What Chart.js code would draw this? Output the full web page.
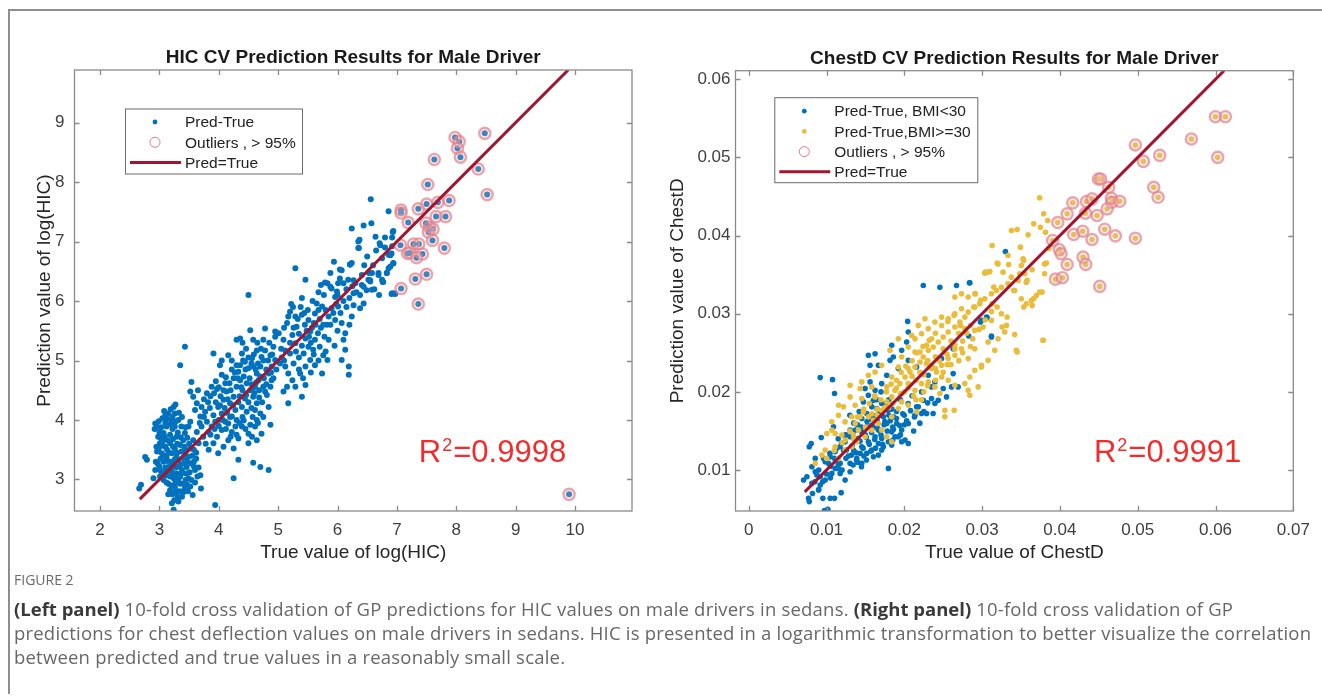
<!DOCTYPE html>
<html>
<head>
<meta charset="utf-8">
<script src="https://cdn.jsdelivr.net/npm/chart.js@4.4.0/dist/chart.umd.min.js"></script>
<style>
  html, body { margin: 0; padding: 0; background: #fff; }
  body { width: 1322px; height: 697px; position: relative; overflow: hidden; }
  .frame { position: absolute; left: 8px; top: 9px; width: 1330px; height: 683px;
           border-left: 2px solid #8e8e8e; border-top: 2px solid #8e8e8e; }
  #hicChart { position: absolute; left: 0; top: 20px; }
  #chestChart { position: absolute; left: 660px; top: 20px; }
  .caption { position: absolute; left: 14px; top: 567px; width: 1305px; white-space: nowrap;
             font-family: "Open Sans", sans-serif; color: #676767; }
  .caption .fig { font-size: 14px; color: #6a6a6a; height: 30px; line-height: 25px; }
  .caption .text { font-size: 18.5px; letter-spacing: 0.2px; line-height: 24px; }
  .caption b { color: #3a3a3a; font-weight: 700; letter-spacing: 0; }
</style>
</head>
<body>
<div class="frame"></div>
<canvas id="hicChart" width="660" height="560"></canvas>
<canvas id="chestChart" width="662" height="560"></canvas>
<div class="caption">
  <div class="fig">FIGURE 2</div>
  <div class="text"><b>(Left panel)</b> 10-fold cross validation of GP predictions for HIC values on male drivers in sedans. <b>(Right panel)</b> 10-fold cross validation of GP<br>predictions for chest deflection values on male drivers in sedans. HIC is presented in a logarithmic transformation to better visualize the correlation<br>between predicted and true values in a reasonably small scale.</div>
</div>
<script>
// ---- left panel: log(HIC), [true, predicted]
const hicPoints = [
  [2.66,2.85],[2.69,2.91],[2.76,3.38],[2.79,3.33],[2.93,3.94],[2.96,3.89],[2.98,3.72],[3.01,3.61],[2.96,3.47],[2.97,3.27],
  [2.93,3.16],[2.90,3.02],[3.01,3.16],[3.05,4.03],[3.10,4.08],[3.15,4.11],[3.24,4.22],[3.26,4.11],[3.21,3.97],[3.12,3.89],
  [3.07,3.78],[3.18,3.75],[3.26,3.89],[3.32,4.00],[3.37,3.89],[3.29,3.72],[3.18,3.61],[3.10,3.55],[3.04,3.44],[3.12,3.38],
  [3.21,3.44],[3.26,3.52],[3.35,3.58],[3.40,3.66],[3.43,3.78],[3.49,3.89],[3.52,3.97],[3.46,3.49],[3.07,3.30],[3.15,3.21],
  [3.24,3.27],[3.32,3.33],[3.40,3.36],[3.49,3.38],[3.54,3.27],[3.46,3.21],[3.38,3.16],[3.29,3.10],[3.21,3.13],[3.12,3.07],
  [3.04,3.10],[3.07,2.99],[3.15,2.93],[3.24,3.02],[3.32,2.99],[3.40,2.93],[3.49,3.02],[3.52,2.88],[3.43,2.85],[3.26,2.88],
  [3.18,2.82],[3.29,2.76],[3.21,2.60],[3.24,2.49],[3.38,2.71],[3.32,2.63],[3.56,2.74],[3.70,2.85],[3.69,3.07],[3.60,3.16],
  [3.54,2.99],[3.94,2.57],[3.43,5.23],[3.35,4.92],[3.00,3.80],[3.05,3.65],[3.13,3.50],[3.20,3.30],[3.28,3.20],[3.35,3.05],
  [3.18,3.05],[3.10,3.20],[2.95,3.55],[3.02,3.35],[3.30,3.45],[3.36,3.25],[3.45,3.10],[3.27,2.95],[3.15,2.75],[3.35,2.80],
  [3.42,3.55],[3.50,3.60],[3.58,3.50],[3.62,3.35],[3.10,3.95],[3.22,3.85],[3.30,3.60],
  [2.92,3.85],[2.99,3.98],[3.03,3.88],[3.08,4.15],[3.13,4.02],[3.17,3.93],[3.22,4.05],[3.28,3.98],[3.33,4.12],[3.38,4.05],
  [3.19,4.18],[3.27,4.26],[3.02,3.70],[3.09,3.72],[3.14,3.66],[3.23,3.68],[3.31,3.79],[3.36,3.71],[3.44,3.88],[3.47,3.70],
  [2.99,3.52],[3.06,3.57],[3.16,3.45],[3.23,3.55],[3.29,3.38],[3.37,3.47],[3.44,3.42],[3.52,3.52],[2.94,3.30],[3.00,3.22],
  [3.09,3.40],[3.14,3.31],[3.19,3.22],[3.26,3.34],[3.33,3.22],[3.41,3.27],[3.47,3.30],[3.55,3.40],[3.01,3.05],[3.09,3.12],
  [3.17,3.15],[3.22,3.06],[3.30,3.05],[3.37,3.10],[3.44,2.99],[3.51,3.12],[3.58,3.22],[3.12,2.95],[3.20,2.90],[3.28,2.82],
  [3.35,2.93],[3.46,2.92],[3.22,2.75],[3.31,2.70],[3.25,2.65],[3.40,2.78],[3.48,2.80],[3.60,2.95],[3.64,3.05],[3.66,3.20],
  [3.58,3.30],[3.62,3.45],
  [3.54,4.64],[3.52,4.48],[3.57,4.39],[3.63,4.28],[3.71,4.22],[3.60,4.17],[3.69,4.06],[3.77,4.14],[3.80,3.97],[3.71,3.89],
  [3.63,3.80],[3.57,3.66],[3.66,3.61],[3.74,3.72],[3.83,3.80],[3.88,3.89],[3.94,3.97],[3.91,4.08],[3.85,4.20],[3.80,4.45],
  [3.88,4.56],[3.91,5.12],[4.02,4.92],[4.05,4.76],[4.11,4.62],[4.13,4.48],[4.08,4.34],[3.99,4.22],[4.05,4.11],[4.11,3.97],
  [4.05,3.83],[3.97,3.72],[3.91,3.61],[3.83,3.50],[3.99,3.44],[4.08,3.55],[4.16,3.66],[4.22,3.80],[4.28,3.89],[4.22,4.06],
  [4.28,4.17],[4.19,4.28],[4.25,4.39],[4.30,4.56],[4.36,4.67],[4.33,4.81],[4.30,4.92],[4.16,5.09],[4.30,5.35],[4.36,5.37],
  [4.39,5.12],[4.44,4.98],[4.50,4.87],[4.42,4.73],[4.47,4.62],[4.53,4.50],[4.44,4.36],[4.39,4.22],[4.47,4.14],[4.42,3.99],
  [4.53,3.92],[4.50,3.77],[4.61,3.89],[4.64,4.00],[4.61,4.17],[4.64,4.28],[4.58,4.39],[4.61,4.56],[4.67,4.67],[4.64,4.78],
  [4.58,4.90],[4.56,5.04],[4.53,5.51],[4.64,5.17],[4.72,5.06],[4.78,5.17],[4.75,5.35],[4.78,5.54],[4.70,4.73],[4.75,4.56],
  [4.81,4.42],[4.87,4.56],[4.89,4.67],[4.84,4.78],[4.89,4.90],[4.95,5.01],[4.87,5.09],[4.92,5.23],[4.95,5.40],[4.95,5.49],
  [4.84,4.22],[4.70,4.11],[4.72,3.77],[4.87,3.92],[4.64,3.66],[4.50,3.61],[4.56,3.72],[4.33,3.69],[4.25,3.52],[4.33,3.33],
  [4.25,3.02],[4.58,3.28],[4.70,3.21],[4.84,3.16],[4.39,3.89],[4.16,3.94],[4.40,4.50],[4.50,4.30],[4.55,4.60],[4.60,4.45],
  [4.70,4.90],[4.75,5.00],[4.80,4.85],[4.68,4.50],[4.45,4.85],[4.35,4.40],[4.20,4.50],[4.10,4.20],[4.00,4.00],[3.95,4.30],
  [4.15,4.35],[4.25,4.70],[4.40,4.05],[4.55,4.20],[4.65,5.30],[4.85,5.30],[4.90,5.10],[4.30,4.00],[4.00,4.55],[3.75,4.35],
  [3.65,4.50],
  [3.68,3.95],[3.75,4.05],[3.82,4.30],[3.86,4.40],[3.92,4.45],[3.97,4.52],[4.03,4.40],[4.08,4.50],[4.12,4.72],[4.18,4.62],
  [4.22,4.85],[4.27,4.80],[4.32,4.70],[4.36,4.92],[4.41,5.00],[4.46,5.20],[4.50,5.05],[4.55,4.95],[4.59,5.10],[4.62,4.85],
  [4.66,4.95],[4.71,5.20],[4.76,4.70],[4.80,4.60],[4.83,5.00],[4.88,4.80],[4.92,4.70],[4.97,4.85],[4.02,4.25],[4.07,4.00],
  [4.14,4.12],[4.19,4.05],[4.24,4.25],[4.33,4.30],[4.38,4.55],[4.46,4.42],[4.52,4.70],[4.57,4.52],[4.63,4.63],[4.68,4.38],
  [4.73,4.30],[4.78,4.48],[4.12,3.85],[4.20,3.72],[4.30,3.75],[4.35,3.95],[4.45,3.85],[4.57,4.05],[4.66,3.95],[4.75,4.05],
  [3.86,3.75],[3.93,3.85],[4.00,3.90],[3.78,3.60],[3.95,4.65],[4.05,5.00],[4.22,5.00],[4.40,5.30],[4.58,5.35],
  [5.03,4.95],[5.12,5.17],[5.09,5.35],[5.01,5.46],[5.15,5.63],[5.20,5.82],[5.17,5.74],[5.29,5.74],[5.31,5.57],[5.24,5.43],
  [5.29,5.29],[5.20,5.12],[5.26,4.95],[5.17,4.78],[5.24,4.67],[5.15,4.56],[5.09,4.48],[5.29,4.56],[5.17,4.28],[5.40,4.39],
  [5.46,4.59],[5.37,4.78],[5.46,4.90],[5.54,5.01],[5.43,5.12],[5.51,5.23],[5.46,5.37],[5.54,5.49],[5.60,5.63],[5.51,5.68],
  [5.40,5.77],[5.62,5.79],[5.74,5.91],[5.65,5.96],[5.77,6.10],[5.72,6.27],[5.83,6.30],[5.90,6.21],[5.96,6.07],[5.90,5.88],
  [5.85,5.74],[5.76,5.60],[5.67,5.46],[5.62,5.35],[5.70,5.23],[5.59,5.18],[5.76,5.09],[5.62,4.92],[5.74,4.78],[5.83,5.01],
  [5.85,5.35],[5.96,5.68],[6.07,5.63],[6.13,5.46],[6.10,5.35],[6.13,5.18],[6.07,5.01],[6.19,4.90],[6.19,4.76],[6.24,5.74],
  [6.01,5.91],[6.01,6.30],[6.07,6.52],[5.94,6.66],[6.04,6.38],[6.21,6.61],[6.18,6.36],[6.27,6.13],[6.27,5.93],[6.38,6.10],
  [6.38,5.88],[6.44,5.96],[6.44,6.24],[6.53,6.47],[6.55,6.33],[6.58,6.19],[6.52,6.36],[6.69,6.47],[6.75,6.36],[6.83,6.47],
  [6.89,6.58],[6.94,6.64],[6.86,6.78],[6.92,6.92],[6.72,6.94],[6.35,6.89],[6.24,6.64],[6.35,7.00],[6.97,6.13],[6.92,6.13],
  [5.29,6.55],[5.46,6.36],[4.50,6.10],[6.41,6.44],[5.35,5.45],[5.40,5.25],[5.55,5.30],[5.60,5.10],[5.35,5.05],[5.45,5.60],
  [5.70,5.70],[5.80,5.85],[5.05,5.20],[5.10,5.00],[5.30,5.15],[5.25,5.90],[5.50,5.85],[6.00,6.10],[6.15,6.20],[6.30,6.30],
  [5.06,5.05],[5.12,4.90],[5.20,5.30],[5.26,5.55],[5.33,5.70],[5.38,5.90],[5.44,5.80],[5.48,5.50],[5.52,5.40],[5.57,5.55],
  [5.63,5.60],[5.68,5.85],[5.72,5.55],[5.78,5.40],[5.82,5.60],[5.88,5.60],[5.93,5.80],[5.98,5.95],[6.05,5.80],[6.10,6.00],
  [6.15,5.90],[6.20,6.05],[6.25,6.25],[6.32,6.15],[5.35,4.85],[5.42,4.70],[5.55,4.80],[5.68,5.00],[5.80,5.15],[5.95,5.25],
  [6.00,5.50],[6.20,5.60],[5.10,5.55],[5.22,5.95],[5.40,6.05],[5.58,6.00],[5.68,6.15],[6.45,6.60],[6.60,6.60],[6.50,6.75],
  [6.65,6.85],[6.80,6.90],[6.62,6.20],[6.70,6.10],
  [6.56,7.71],[6.86,7.51],[6.44,7.27],[6.57,7.31],[6.24,7.22],[6.37,7.03],[6.36,6.89],[6.64,7.08],[6.71,6.97],[6.80,7.07],
  [6.94,7.18],[6.92,7.07],[6.21,6.62],[6.04,6.53],[5.88,6.47],[5.79,6.31],[5.88,6.24],[5.99,6.16],[6.10,6.30],[6.27,6.35],
  [6.41,6.27],[6.49,6.18],[6.55,6.35],[6.69,6.44],[6.77,6.32],[6.86,6.55],[6.94,6.63],[6.89,6.77],[6.58,6.47],[6.75,6.72],
  [6.93,7.16],[6.91,6.80],[6.83,6.47],[6.76,6.32],[6.91,6.12],[6.97,6.12]
];
const hicOutliers = [
  [7.98,8.75],[8.05,8.68],[8.02,8.57],[8.07,8.42],[8.48,8.82],[7.63,8.38],[8.37,8.22],[8.52,7.79],[7.52,7.96],[7.88,7.69],
  [7.69,7.66],[7.50,7.63],[7.36,7.55],[7.07,7.53],[7.07,7.48],[7.19,7.32],[7.82,7.42],[7.66,7.42],[7.49,7.31],[7.55,7.24],
  [7.53,7.16],[7.61,7.21],[7.60,7.02],[7.28,6.96],[7.37,6.96],[7.06,6.94],[7.80,6.89],[7.18,6.80],[7.22,6.81],[7.43,6.79],
  [7.33,6.73],[7.50,6.45],[7.31,6.37],[7.07,6.21],[7.36,5.95],[9.90,2.75]
];
const hicDiagonal = [2.67, 9.885];
const hicXRange = [1.57, 10.96];
const hicYRange = [2.47, 9.885];
const hicR2 = { text: '0.9998', x: 7.37, y: 3.29 };

// ---- right panel: chest deflection, [true, predicted]
const chestLowBmi = [
  [0.00705,0.00872],[0.00769,0.00638],[0.00778,0.00596],[0.00855,0.00979],[0.00876,0.00936],[0.00919,0.00809],[0.00897,0.00745],
  [0.00953,0.00638],[0.01047,0.00638],[0.01103,0.00638],[0.00974,0.00481],[0.01017,0.00498],[0.01188,0.00711],[0.00803,0.0134],
  [0.00778,0.01298],[0.00932,0.01417],[0.0109,0.01553],[0.00919,0.02183],[0.01077,0.02157],[0.01103,0.01979],[0.00962,0.01149],
  [0.01026,0.01085],[0.01111,0.01021],[0.01175,0.00957],[0.01239,0.00872],[0.01303,0.00979],[0.01043,0.01213],[0.01128,0.01277],
  [0.01192,0.0134],[0.01256,0.01255],[0.01321,0.01191],[0.01385,0.01128],[0.01449,0.01043],[0.01513,0.01128],[0.01342,0.01064],
  [0.01175,0.01085],[0.01239,0.01447],[0.01303,0.01511],[0.01368,0.01596],[0.01453,0.0166],[0.01517,0.01723],[0.01581,0.01809],
  [0.01474,0.01872],[0.01538,0.01957],[0.01496,0.02043],[0.0156,0.02128],[0.0156,0.0234],[0.01538,0.02468],[0.01667,0.0234],
  [0.01816,0.02404],[0.01859,0.02447],[0.01966,0.02532],[0.0203,0.02638],[0.02043,0.02902],[0.02051,0.02766],[0.01923,0.02298],
  [0.01774,0.02213],[0.01709,0.02106],[0.01624,0.02021],[0.01603,0.01894],[0.01709,0.01851],[0.01795,0.01766],[0.01859,0.01681],
  [0.01774,0.01596],[0.01667,0.01511],[0.01624,0.01426],[0.01538,0.01362],[0.01453,0.01298],[0.01731,0.01681],[0.01838,0.01489],
  [0.01923,0.01426],[0.02009,0.01383],[0.02051,0.0134],[0.01966,0.01511],[0.01902,0.01596],[0.02051,0.01596],[0.02137,0.01702],
  [0.02222,0.01723],[0.02286,0.01723],[0.0237,0.01723],[0.02158,0.01809],[0.02244,0.01894],[0.0235,0.01915],[0.02393,0.01851],
  [0.02436,0.01894],[0.02222,0.02],[0.0235,0.02064],[0.02543,0.01936],[0.02607,0.02064],[0.02692,0.02064],[0.02628,0.02234],
  [0.02479,0.02426],[0.02628,0.02553],[0.02244,0.03362],[0.02457,0.0334],[0.02671,0.03362],[0.02842,0.03396],[0.02991,0.02915],
  [0.03056,0.02957],[0.0312,0.02702],[0.0330,0.03797],[0.01795,0.01021],[0.01667,0.01191],[0.01731,0.01298],[0.01838,0.01319],
  [0.01432,0.01213],[0.01581,0.01255],[0.01624,0.02489],[0.01838,0.02596],[0.02051,0.02404],[0.02158,0.02319],[0.02308,0.02213],
  [0.02393,0.02128],[0.025,0.02043],[0.01581,0.01574],[0.01645,0.01681],[0.0156,0.01851],[0.01645,0.01787],[0.01517,0.01553],
  [0.01453,0.01489],[0.01368,0.01511],[0.01303,0.01426],[0.01239,0.01362],[0.01175,0.01298],[0.01111,0.01234],[0.01047,0.0117],
  [0.00983,0.01106],[0.00855,0.01149],[0.00812,0.01043],[0.00748,0.00915],[0.00812,0.0083],[0.00919,0.00915],[0.00983,0.00872],
  [0.01068,0.00957],[0.01154,0.01021],[0.01303,0.01085],[0.01389,0.01149],[0.01453,0.01085],[0.01517,0.01213],[0.01603,0.0117],
  [0.01709,0.01255],[0.01795,0.01362],[0.0188,0.01426],[0.01966,0.01362],[0.01709,0.01404],[0.01667,0.0134],[0.02837,0.03397],
  [0.02978,0.02894],[0.03064,0.0295],[0.02828,0.02715],[0.0312,0.02715],[0.014,0.014],[0.015,0.0145],[0.016,0.0155],
  [0.0175,0.0162],[0.018,0.017],[0.019,0.0175],[0.014,0.0158],[0.0155,0.0165],[0.0165,0.0163],[0.0185,0.0155],[0.02,0.017],
  [0.0125,0.0115],[0.0135,0.0125],[0.012,0.01],[0.0105,0.0105],[0.009,0.01],[0.0085,0.0085],[0.0195,0.019],[0.0205,0.0185],
  [0.021,0.0195],[0.018,0.019],[0.017,0.02],[0.0165,0.019],
  [0.0122,0.0125],[0.0128,0.0118],[0.0133,0.0131],[0.0138,0.0122],[0.0143,0.0137],[0.0147,0.0128],[0.0151,0.0142],[0.0155,0.0133],
  [0.0158,0.0148],[0.0162,0.0139],[0.0166,0.0153],[0.0170,0.0145],[0.0174,0.0158],[0.0178,0.0150],[0.0182,0.0163],[0.0186,0.0152],
  [0.0190,0.0166],[0.0194,0.0157],[0.0198,0.0172],[0.0203,0.0163],[0.0208,0.0176],[0.0213,0.0168],[0.0218,0.0181],[0.0225,0.0175],
  [0.0230,0.0186],[0.0140,0.0110],[0.0148,0.0118],[0.0157,0.0124],[0.0163,0.0128],[0.0172,0.0133],[0.0185,0.0138],[0.0195,0.0145],
  [0.0145,0.0155],[0.0152,0.0162],[0.0160,0.0170],[0.0168,0.0175],[0.0176,0.0183],[0.0184,0.0178],[0.0110,0.0115],[0.0115,0.0108],
  [0.0100,0.0095],[0.0095,0.0085],[0.0105,0.0090],[0.0090,0.0075],[0.0082,0.0070],[0.0115,0.0140],[0.0125,0.0145],[0.0135,0.0160],
  [0.0130,0.0170],[0.0142,0.0175],[0.0200,0.0158],[0.0212,0.0150],[0.0220,0.0160]
];
const chestHighBmi = [
  [0.01068,0.01511],[0.01111,0.01468],[0.01197,0.01447],[0.00983,0.01255],[0.01111,0.01298],[0.01239,0.01255],[0.0094,0.01191],
  [0.00855,0.01085],[0.01154,0.01149],[0.01346,0.01447],[0.0141,0.01511],[0.01368,0.01596],[0.01432,0.01681],[0.01474,0.01745],
  [0.01538,0.01681],[0.01603,0.01638],[0.01667,0.01596],[0.01709,0.01511],[0.01774,0.01426],[0.01838,0.01362],[0.01581,0.01511],
  [0.01496,0.01426],[0.01389,0.01362],[0.01325,0.01298],[0.01239,0.01383],[0.01709,0.01766],[0.01774,0.01872],[0.01838,0.01936],
  [0.0188,0.02021],[0.01944,0.02106],[0.02009,0.02191],[0.02073,0.02255],[0.02137,0.02319],[0.02201,0.02383],[0.02244,0.02447],
  [0.02308,0.02532],[0.02372,0.02574],[0.02436,0.02638],[0.025,0.02702],[0.02564,0.02766],[0.0265,0.0283],[0.02714,0.02894],
  [0.02778,0.02957],[0.02821,0.03021],[0.02906,0.03085],[0.0297,0.03128],[0.03034,0.03191],[0.0312,0.03255],[0.03184,0.03298],
  [0.03248,0.0334],[0.03333,0.03383],[0.03419,0.03298],[0.03504,0.03191],[0.03568,0.03128],[0.03632,0.0317],[0.03697,0.03234],
  [0.03739,0.03277],[0.03803,0.03511],[0.03803,0.03638],[0.03547,0.03511],[0.03568,0.03404],[0.03462,0.03426],[0.03376,0.03468],
  [0.03269,0.03532],[0.03205,0.03638],[0.03077,0.03532],[0.03034,0.03519],[0.03333,0.03745],[0.03504,0.03617],[0.03526,0.03702],
  [0.0344,0.02532],[0.03782,0.0266],[0.03291,0.02766],[0.03205,0.02681],[0.03162,0.02532],[0.03077,0.02404],[0.02991,0.0234],
  [0.02906,0.02277],[0.02842,0.02191],[0.02778,0.02106],[0.02821,0.02021],[0.02842,0.01957],[0.02949,0.02064],[0.02991,0.02319],
  [0.0265,0.02085],[0.02564,0.02149],[0.02479,0.02191],[0.02415,0.02255],[0.0235,0.0234],[0.02286,0.02362],[0.02521,0.01766],
  [0.02641,0.01766],[0.02521,0.01681],[0.02158,0.01745],[0.02051,0.0183],[0.01966,0.01872],[0.01923,0.01787],[0.01838,0.01681],
  [0.02137,0.02021],[0.02222,0.02106],[0.02308,0.02128],[0.02393,0.02064],[0.02457,0.01979],[0.02051,0.02106],[0.01966,0.01979],
  [0.01774,0.02064],[0.01838,0.02191],[0.01923,0.02319],[0.01966,0.02447],[0.02051,0.02574],[0.02137,0.02681],[0.02222,0.02745],
  [0.02308,0.02809],[0.02393,0.02894],[0.02479,0.02957],[0.02564,0.02936],[0.0265,0.03],[0.02735,0.03064],[0.02821,0.03213],
  [0.02906,0.03255],[0.02735,0.03255],[0.0265,0.03213],[0.02778,0.02809],[0.02906,0.02787],[0.03013,0.0283],[0.0312,0.02915],
  [0.03248,0.03],[0.03312,0.02851],[0.03077,0.02638],[0.02906,0.02553],[0.02821,0.02426],[0.02735,0.02553],[0.0265,0.02468],
  [0.02564,0.02426],[0.02479,0.0234],[0.0235,0.02681],[0.02286,0.02596],[0.02201,0.02511],[0.02137,0.02511],[0.02265,0.02936],
  [0.02179,0.02851],[0.02094,0.02723],[0.01923,0.02681],[0.01816,0.02532],[0.01709,0.0234],[0.01624,0.02255],[0.01538,0.02213],
  [0.01432,0.02043],[0.01303,0.01936],[0.01218,0.01809],[0.01154,0.01702],[0.01068,0.01617],[0.01004,0.01468],[0.01325,0.01681],
  [0.01239,0.01617],[0.01581,0.02064],[0.01453,0.02128],[0.01303,0.02085],[0.01154,0.0183],[0.01368,0.0183],[0.01453,0.01915],
  [0.01624,0.01936],[0.0374,0.04483],[0.03792,0.04278],[0.03843,0.04193],[0.03663,0.04151],[0.03377,0.04065],[0.0345,0.04078],
  [0.03749,0.04107],[0.03591,0.0401],[0.03814,0.04043],[0.03129,0.03874],[0.03492,0.03852],[0.03856,0.03831],[0.03535,0.03682],
  [0.03193,0.03648],[0.03342,0.03631],[0.03826,0.03648],[0.03643,0.03563],[0.03042,0.03533],[0.03098,0.03541],[0.03483,0.03512],
  [0.03578,0.03427],[0.03406,0.03299],[0.03771,0.03277],[0.03663,0.03193],[0.03535,0.03086],[0.03643,0.03107],[0.03419,0.02733],
  [0.03784,0.0266],[0.0345,0.02511],[0.03257,0.0283],[0.03321,0.02958],[0.03193,0.03086],[0.03129,0.03129],[0.02978,0.03171],
  [0.02892,0.03086],[0.02914,0.03257],[0.03149,0.03341],[0.02,0.02],[0.021,0.022],[0.022,0.0225],[0.023,0.024],[0.024,0.0245],
  [0.025,0.0255],[0.026,0.0265],[0.027,0.0275],[0.0215,0.019],[0.0225,0.02],[0.024,0.023],[0.0255,0.0235],[0.0265,0.026],
  [0.0275,0.0265],[0.0285,0.0285],[0.019,0.0205],[0.0205,0.023],[0.018,0.018],[0.0165,0.017],[0.015,0.0155],
  [0.0140,0.0168],[0.0148,0.0178],[0.0155,0.0185],[0.0162,0.0195],[0.0170,0.0190],[0.0177,0.0200],[0.0183,0.0210],[0.0190,0.0215],
  [0.0196,0.0225],[0.0202,0.0233],[0.0210,0.0240],[0.0216,0.0250],[0.0224,0.0258],[0.0232,0.0266],[0.0240,0.0275],[0.0248,0.0285],
  [0.0256,0.0290],[0.0264,0.0298],[0.0272,0.0285],[0.0280,0.0275],[0.0288,0.0268],[0.0296,0.0280],[0.0304,0.0292],[0.0312,0.0303],
  [0.0195,0.0198],[0.0205,0.0205],[0.0215,0.0215],[0.0225,0.0222],[0.0235,0.0230],[0.0245,0.0240],[0.0255,0.0248],[0.0265,0.0255],
  [0.0275,0.0250],[0.0285,0.0258],[0.0230,0.0208],[0.0240,0.0215],[0.0250,0.0225],[0.0260,0.0235],[0.0270,0.0240],[0.0212,0.0195],
  [0.0222,0.0190],[0.0185,0.0185],[0.0175,0.0180],[0.0165,0.0178],[0.0158,0.0172],[0.0130,0.0150],[0.0120,0.0135],[0.0110,0.0125],
  [0.0100,0.0115],[0.0135,0.0140]
];
const chestOutliers = [
  [0.05999,0.05521],[0.06127,0.05521],[0.0569,0.05236],[0.06028,0.05001],[0.0497,0.0516],[0.05283,0.05027],[0.05073,0.0495],
  [0.04495,0.04725],[0.04524,0.04725],[0.05206,0.04618],[0.05262,0.0449],[0.04627,0.04618],[0.04662,0.04478],[0.0467,0.04427],
  [0.04769,0.04439],[0.04165,0.04419],[0.04341,0.04436],[0.04413,0.0447],[0.04607,0.04342],[0.04478,0.04257],[0.04328,0.04286],
  [0.04093,0.04278],[0.03972,0.04167],[0.04177,0.04014],[0.04293,0.04056],[0.04576,0.04082],[0.04713,0.03997],[0.0497,0.03967],
  [0.04413,0.0395],[0.03907,0.03937],[0.03993,0.03819],[0.04015,0.03768],[0.04093,0.03631],[0.04298,0.03724],[0.04332,0.03631],
  [0.03942,0.03443],[0.04032,0.03461],[0.04512,0.0335]
];
const chestDiagonal = [0.0072, 0.0611];
const chestXRange = [-0.0017, 0.07];
const chestYRange = [0.00476, 0.0611];
const chestR2 = { text: '0.9991', x: 0.04437, y: 0.01102 };

const FONT = '"Liberation Sans", Arial, Helvetica, sans-serif';
const BLUE = '#0072BD', YELLOW = '#E9BC3A', DARKRED = '#A2142F', RING = 'rgba(226,128,138,0.7)';

Chart.defaults.font.family = FONT;
Chart.defaults.color = '#3a3a3a';

const toXY = arr => arr.map(p => ({ x: p[0], y: p[1] }));

// matlab-like axes box with inward ticks, title, legend and R^2 text
const matlabAxes = {
  id: 'matlabAxes',
  afterDatasetsDraw(chart, args, opts) {
    const { ctx, chartArea: a, scales: { x, y } } = chart;
    ctx.save();
    ctx.strokeStyle = '#8a8a8a';
    ctx.lineWidth = 1.3;
    ctx.strokeRect(a.left, a.top, a.right - a.left, a.bottom - a.top);
    ctx.beginPath();
    x.ticks.forEach(t => {
      const px = Math.round(x.getPixelForValue(t.value)) + 0.5;
      ctx.moveTo(px, a.bottom); ctx.lineTo(px, a.bottom - 5);
      ctx.moveTo(px, a.top); ctx.lineTo(px, a.top + 5);
    });
    y.ticks.forEach(t => {
      const py = Math.round(y.getPixelForValue(t.value)) + 0.5;
      ctx.moveTo(a.left, py); ctx.lineTo(a.left + 5, py);
      ctx.moveTo(a.right, py); ctx.lineTo(a.right - 5, py);
    });
    ctx.stroke();

    // title centred over the axes
    ctx.fillStyle = '#1a1a1a';
    ctx.font = 'bold 19px ' + FONT;
    ctx.textAlign = 'center';
    ctx.textBaseline = 'alphabetic';
    ctx.fillText(opts.title, (a.left + a.right) / 2, a.top - 7);

    // R^2
    const r2 = opts.r2;
    let rx = x.getPixelForValue(r2.x);
    const ry = y.getPixelForValue(r2.y);
    ctx.fillStyle = '#f52a2a';
    ctx.textAlign = 'left';
    ctx.font = '31px ' + FONT;
    ctx.fillText('R', rx, ry);
    rx += ctx.measureText('R').width + 1;
    ctx.font = '18px ' + FONT;
    ctx.fillText('2', rx, ry - 11);
    rx += ctx.measureText('2').width + 1;
    ctx.font = '31px ' + FONT;
    ctx.fillText('=' + r2.text, rx, ry);

    // legend box
    const lg = opts.legend;
    const bx = a.left + lg.dx, by = a.top + lg.dy;
    ctx.fillStyle = '#fff';
    ctx.fillRect(bx, by, lg.w, lg.h);
    ctx.strokeStyle = '#6a6a6a';
    ctx.lineWidth = 1;
    ctx.strokeRect(bx + 0.5, by + 0.5, lg.w, lg.h);
    ctx.font = '15.5px ' + FONT;
    ctx.textBaseline = 'middle';
    lg.items.forEach((idx, i) => {
      const ds = chart.data.datasets[idx];
      const cy = by + lg.first + i * lg.step;
      const cx = bx + 30;
      if (ds.legendKind === 'dot') {
        ctx.fillStyle = ds.backgroundColor;
        ctx.beginPath(); ctx.arc(cx, cy, 2.4, 0, Math.PI * 2); ctx.fill();
      } else if (ds.legendKind === 'ring') {
        ctx.strokeStyle = '#e07c88'; ctx.lineWidth = 1;
        ctx.beginPath(); ctx.arc(cx, cy, 5, 0, Math.PI * 2); ctx.stroke();
      } else {
        ctx.strokeStyle = ds.borderColor; ctx.lineWidth = 3;
        ctx.beginPath(); ctx.moveTo(bx + 5, cy); ctx.lineTo(bx + 56, cy); ctx.stroke();
      }
      ctx.fillStyle = '#222';
      ctx.fillText(ds.label, bx + 60, cy + 1);
    });
    ctx.restore();
  }
};

function axisConfig(range, step, fmt, fit, title, titlePad, tickPad, horizontal) {
  return {
    type: 'linear',
    min: range[0],
    max: range[1],
    grid: { display: false, drawTicks: false },
    border: { display: false },
    ticks: { stepSize: step, includeBounds: false, padding: tickPad, color: '#404040',
             font: { size: 17 }, callback: fmt },
    title: { display: true, text: title, color: '#262626', font: { size: 19 }, padding: titlePad },
    afterFit: s => { if (horizontal) s.height = fit; else s.width = fit; }
  };
}

const hicChart = new Chart(document.getElementById('hicChart'), {
  type: 'scatter',
  data: {
    datasets: [
      { type: 'line', label: 'Pred=True', legendKind: 'line', data: toXY([[hicDiagonal[0], hicDiagonal[0]], [hicDiagonal[1], hicDiagonal[1]]]),
        borderColor: DARKRED, borderWidth: 3, pointRadius: 0, fill: false },
      { label: 'Outliers , > 95%', legendKind: 'ring', data: toXY(hicOutliers), pointRadius: 5.6,
        borderColor: RING, borderWidth: 2.4, backgroundColor: 'rgba(240,190,196,0.25)' },
      { label: 'Pred-True', legendKind: 'dot', data: toXY(hicPoints.concat(hicOutliers)), pointRadius: 3,
        borderWidth: 0, backgroundColor: BLUE }
    ]
  },
  options: {
    responsive: false, animation: false, devicePixelRatio: 1,
    layout: { padding: { top: 50, right: 28, bottom: 0, left: 0 } },
    scales: {
      x: axisConfig(hicXRange, 1, v => v, 69, 'True value of log(HIC)', { top: 0, bottom: 16 }, 9, true),
      y: axisConfig(hicYRange, 1, v => v, 74.5, 'Prediction value of log(HIC)', { top: 33, bottom: 0 }, 10, false)
    },
    plugins: {
      legend: { display: false },
      tooltip: { enabled: false },
      matlabAxes: {
        title: 'HIC CV Prediction Results for Male Driver',
        r2: hicR2,
        legend: { dx: 50.5, dy: 38.5, w: 177, h: 65, first: 13.5, step: 20.3, items: [2, 1, 0] }
      }
    }
  },
  plugins: [matlabAxes]
});

const chestFmt = v => +v.toFixed(2);
const chestChart = new Chart(document.getElementById('chestChart'), {
  type: 'scatter',
  data: {
    datasets: [
      { type: 'line', label: 'Pred=True', legendKind: 'line', data: toXY([[chestDiagonal[0], chestDiagonal[0]], [chestDiagonal[1], chestDiagonal[1]]]),
        borderColor: DARKRED, borderWidth: 3, pointRadius: 0, fill: false },
      { label: 'Outliers , > 95%', legendKind: 'ring', data: toXY(chestOutliers), pointRadius: 5.6,
        borderColor: RING, borderWidth: 2.4, backgroundColor: 'rgba(240,190,196,0.25)' },
      { label: 'Pred-True,BMI>=30', legendKind: 'dot', data: toXY(chestHighBmi.concat(chestOutliers)), pointRadius: 2.8,
        borderWidth: 0, backgroundColor: YELLOW },
      { label: 'Pred-True, BMI<30', legendKind: 'dot', data: toXY(chestLowBmi), pointRadius: 2.8,
        borderWidth: 0, backgroundColor: BLUE }
    ]
  },
  options: {
    responsive: false, animation: false, devicePixelRatio: 1,
    layout: { padding: { top: 50.7, right: 28.7, bottom: 0, left: 0 } },
    scales: {
      x: axisConfig(chestXRange, 0.01, chestFmt, 69, 'True value of ChestD', { top: 0, bottom: 16 }, 9, true),
      y: axisConfig(chestYRange, 0.01, chestFmt, 75.5, 'Prediction value of ChestD', { top: 6, bottom: 0 }, 5, false)
    },
    plugins: {
      legend: { display: false },
      tooltip: { enabled: false },
      matlabAxes: {
        title: 'ChestD CV Prediction Results for Male Driver',
        r2: chestR2,
        legend: { dx: 38.8, dy: 26.5, w: 203, h: 85, first: 14, step: 20.2, items: [3, 2, 1, 0] }
      }
    }
  },
  plugins: [matlabAxes]
});
</script>
</body>
</html>
